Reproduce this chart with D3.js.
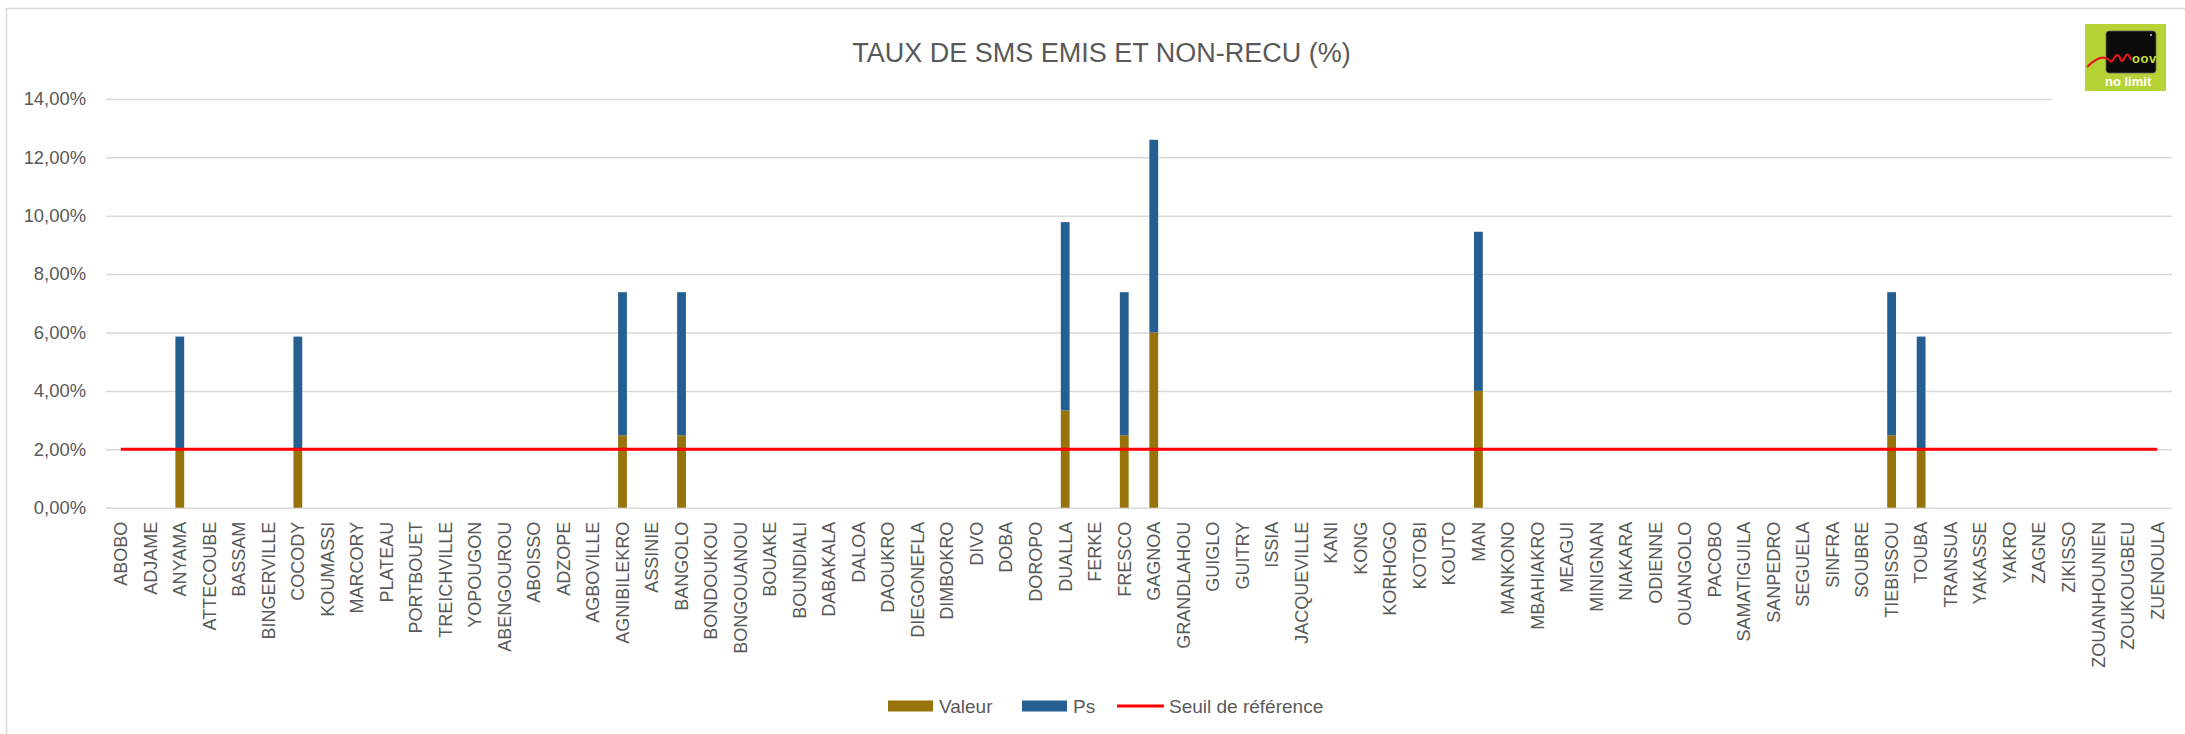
<!DOCTYPE html>
<html>
<head>
<meta charset="utf-8">
<script src="https://cdn.jsdelivr.net/npm/d3@7"></script>
<style>
  html, body { margin: 0; padding: 0; background: #fff; }
  svg { display: block; }
  text { font-family: "Liberation Sans", Arial, sans-serif; fill: #595959; }
</style>
</head>
<body>
<svg id="chart" width="2185" height="734"></svg>
<script>
// ---- data ----
const categories = ["ABOBO","ADJAME","ANYAMA","ATTECOUBE","BASSAM","BINGERVILLE","COCODY","KOUMASSI","MARCORY","PLATEAU","PORTBOUET","TREICHVILLE","YOPOUGON","ABENGOUROU","ABOISSO","ADZOPE","AGBOVILLE","AGNIBILEKRO","ASSINIE","BANGOLO","BONDOUKOU","BONGOUANOU","BOUAKE","BOUNDIALI","DABAKALA","DALOA","DAOUKRO","DIEGONEFLA","DIMBOKRO","DIVO","DOBA","DOROPO","DUALLA","FERKE","FRESCO","GAGNOA","GRANDLAHOU","GUIGLO","GUITRY","ISSIA","JACQUEVILLE","KANI","KONG","KORHOGO","KOTOBI","KOUTO","MAN","MANKONO","MBAHIAKRO","MEAGUI","MINIGNAN","NIAKARA","ODIENNE","OUANGOLO","PACOBO","SAMATIGUILA","SANPEDRO","SEGUELA","SINFRA","SOUBRE","TIEBISSOU","TOUBA","TRANSUA","YAKASSE","YAKRO","ZAGNE","ZIKISSO","ZOUANHOUNIEN","ZOUKOUGBEU","ZUENOULA"];

// values in %, only non-zero sites listed; others are 0
const valeurSites = {ANYAMA:2.0, COCODY:2.0, AGNIBILEKRO:2.48, BANGOLO:2.48, DUALLA:3.33, FRESCO:2.48, GAGNOA:6.0, MAN:4.0, TIEBISSOU:2.48, TOUBA:2.0};
const psSites     = {ANYAMA:3.86, COCODY:3.86, AGNIBILEKRO:4.9, BANGOLO:4.9, DUALLA:6.45, FRESCO:4.9, GAGNOA:6.6, MAN:5.45, TIEBISSOU:4.9, TOUBA:3.86};
const valeur = categories.map(c => valeurSites[c] || 0);
const ps = categories.map(c => psSites[c] || 0);
const seuil = categories.map(() => 2);
const yTicks = [0, 2, 4, 6, 8, 10, 12, 14];
const seriesNames = ["Valeur", "Ps", "Seuil de référence"];
const titleText = "TAUX DE SMS EMIS ET NON-RECU (%)";

// ---- drawing ----
const svg = d3.select("#chart");
const W = 2185, H = 734;
const plot = {left: 106, right: 2172, top: 98.9, bottom: 507.7};
const colors = {valeur: "#98720a", ps: "#255e91", seuil: "#ff0000", grid: "#d9d9d9"};

svg.append("rect").attr("width", W).attr("height", H).attr("fill", "#fff");
// chart border (extends beyond the cropped image)
svg.append("rect").attr("x", 6.5).attr("y", 8.5).attr("width", W + 20).attr("height", H + 20)
  .attr("fill", "none").attr("stroke", "#d9d9d9").attr("stroke-width", 1.5);

const x = d3.scaleBand().domain(categories).range([plot.left, plot.right]).padding(0);
const y = d3.scaleLinear().domain([0, 14]).range([plot.bottom, plot.top]);

// gridlines + y labels
const yAxis = d3.axisLeft(y).tickValues(yTicks)
  .tickSize(-(plot.right - plot.left))
  .tickPadding(20)
  .tickFormat(d => d3.format(".2f")(d).replace(".", ",") + "%");
const gy = svg.append("g").attr("transform", `translate(${plot.left},0)`).call(yAxis);
gy.select(".domain").remove();
gy.selectAll(".tick line").attr("stroke", colors.grid).attr("stroke-width", 1.5);
gy.selectAll(".tick text").attr("font-size", 18.4).attr("fill", "#595959")
  .attr("font-family", "Liberation Sans, Arial, sans-serif");

// x labels
const xAxis = d3.axisBottom(x).tickSize(0).tickPadding(0);
const gx = svg.append("g").attr("transform", `translate(0,${plot.bottom})`).call(xAxis);
gx.select(".domain").remove();
gx.selectAll(".tick text")
  .attr("font-size", 18).attr("fill", "#595959")
  .attr("font-family", "Liberation Sans, Arial, sans-serif")
  .attr("text-anchor", "end")
  .attr("transform", "translate(0,14) rotate(-90)")
  .attr("x", 0).attr("y", 0).attr("dy", "0.35em");

// stacked bars
const barW = 8.8;
const stackData = categories.map((c, i) => ({cat: c, Valeur: valeur[i], Ps: ps[i]}));
const stack = d3.stack().keys(["Valeur", "Ps"])(stackData);
const fills = [colors.valeur, colors.ps];
svg.append("g").selectAll("g").data(stack).join("g")
  .attr("fill", (d, i) => fills[i])
  .selectAll("rect").data(d => d.filter(p => p[1] - p[0] > 0)).join("rect")
  .attr("x", d => x(d.data.cat) + x.bandwidth() / 2 - barW / 2)
  .attr("width", barW)
  .attr("y", d => y(d[1]))
  .attr("height", d => y(d[0]) - y(d[1]));

// threshold line
const line = d3.line().x((d, i) => x(categories[i]) + x.bandwidth() / 2).y(d => y(d));
svg.append("path").datum(seuil).attr("d", line)
  .attr("fill", "none").attr("stroke", colors.seuil).attr("stroke-width", 3);

// title
svg.append("text").attr("x", 1101.5).attr("y", 61.5).attr("text-anchor", "middle")
  .attr("font-size", 27).attr("fill", "#595959").text(titleText);

// legend
const lg = svg.append("g");
const ly = 706;
lg.append("rect").attr("x", 888).attr("y", ly - 5.5).attr("width", 45).attr("height", 11).attr("fill", colors.valeur);
lg.append("text").attr("x", 939).attr("y", ly + 7).attr("font-size", 19).text(seriesNames[0]);
lg.append("rect").attr("x", 1022).attr("y", ly - 5.5).attr("width", 45).attr("height", 11).attr("fill", colors.ps);
lg.append("text").attr("x", 1073).attr("y", ly + 7).attr("font-size", 19).text(seriesNames[1]);
lg.append("line").attr("x1", 1117).attr("x2", 1164).attr("y1", ly).attr("y2", ly)
  .attr("stroke", colors.seuil).attr("stroke-width", 3);
lg.append("text").attr("x", 1169).attr("y", ly + 7).attr("font-size", 19).text(seriesNames[2]);

// logo
const logo = svg.append("g");
logo.append("rect").attr("x", 2052).attr("y", 10).attr("width", 120).attr("height", 91).attr("fill", "#fff");
logo.append("rect").attr("x", 2085).attr("y", 24).attr("width", 81).attr("height", 67).attr("fill", "#b5d334");
logo.append("rect").attr("x", 2106).attr("y", 31).attr("width", 50).attr("height", 42).attr("rx", 3)
  .attr("fill", "#0b0b0b").attr("stroke", "#666").attr("stroke-width", 0.8);
logo.append("text").attr("x", 2132).attr("y", 63).attr("font-size", 13).attr("font-weight", "bold")
  .style("fill", "#c6e03a").attr("letter-spacing", 0.5).text("oov");
logo.append("path")
  .attr("d", "M2087,67 C2093,61 2100,56 2106,58 C2110,59 2110,64 2113,60 C2116,55 2118,53 2120,58 C2121,62 2123,62 2125,57 C2127,53 2129,54 2131,60")
  .attr("fill", "none").attr("stroke", "#e3141b").attr("stroke-width", 2.2);
logo.append("circle").attr("cx", 2151).attr("cy", 35).attr("r", 1).attr("fill", "#ccc");
logo.append("text").attr("x", 2105).attr("y", 86).attr("font-size", 13).attr("font-weight", "bold")
  .style("fill", "#ffffff").text("no limit");
</script>
</body>
</html>
